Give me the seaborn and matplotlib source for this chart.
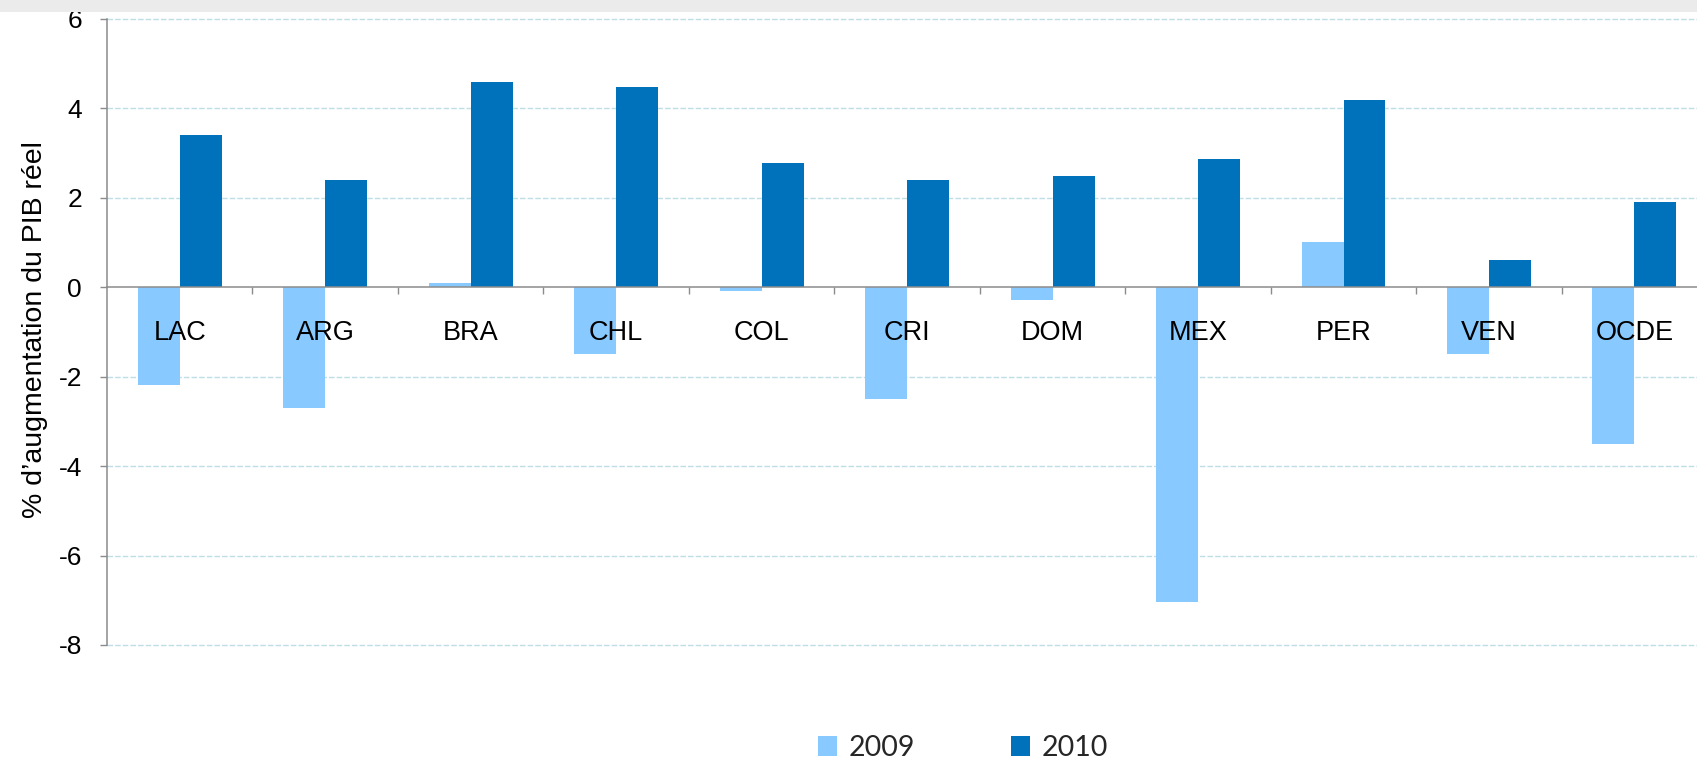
import matplotlib
matplotlib.use("Agg")
import matplotlib.pyplot as plt
from matplotlib.patches import Rectangle
from matplotlib.ticker import FixedLocator
import seaborn as sns
import pandas as pd

# ---- data ----
pays = ["LAC", "ARG", "BRA", "CHL", "COL", "CRI", "DOM", "MEX", "PER", "VEN", "OCDE"]
val_2009 = [-2.2, -2.7, 0.1, -1.5, -0.1, -2.5, -0.3, -7.05, 1.0, -1.5, -3.5]
val_2010 = [3.4, 2.4, 4.57, 4.47, 2.77, 2.4, 2.48, 2.87, 4.18, 0.6, 1.9]
annees = ["2009", "2010"]
y_ticks = [-8, -6, -4, -2, 0, 2, 4, 6]
ylabel = "% d\u2019augmentation du PIB réel"

df = pd.DataFrame({
    "pays": pays * 2,
    "annee": [annees[0]] * len(pays) + [annees[1]] * len(pays),
    "val": val_2009 + val_2010,
})

sns.set_theme(style="white")
plt.rcParams["font.family"] = ["Liberation Sans", "DejaVu Sans"]

W, H = 1697, 762
fig = plt.figure(figsize=(W / 100, H / 100), dpi=100)
left = 107 / W
top = 1 - 18.5 / H
bottom = 1 - 645 / H
ax = fig.add_axes([left, bottom, 1 - left, top - bottom])

# top grey band
fig.patches.append(Rectangle((0, 1 - 12 / H), 1, 12 / H, transform=fig.transFigure,
                             facecolor="#EBEBEB", edgecolor="none", zorder=0))

sns.barplot(data=df, x="pays", y="val", hue="annee", order=pays, hue_order=annees,
            palette=["#88CAFF", "#0072BC"], width=0.577, dodge=True,
            saturation=1, linewidth=0, ax=ax, legend=True)

ax.set_axisbelow(False)
ax.set_xlim(-0.5, 10.43)
ax.set_ylim(-8, 6)
ax.set_xlabel("")
ax.set_ylabel(ylabel, fontsize=20.5, color="black")
ax.yaxis.set_label_coords(-0.037, 0.503)

# gridlines
for yv in y_ticks:
    if yv != 0:
        ax.axhline(yv, color="#BDDFE5", lw=1.0, ls=(0, (4, 1.5)), zorder=0, clip_on=False)

ax.set_yticks(y_ticks)
ax.set_yticklabels([str(v) for v in y_ticks])
ax.tick_params(axis="y", which="major", left=True, length=5, width=1, color="#8C8C8C",
               labelsize=19, pad=13, labelcolor="black", direction="out")

# x axis on zero line
for s in ["top", "right"]:
    ax.spines[s].set_visible(False)
ax.spines["bottom"].set_position(("data", 0))
ax.spines["bottom"].set_color("#8C8C8C")
ax.spines["bottom"].set_linewidth(1.1)
ax.spines["left"].set_color("#8C8C8C")
ax.spines["left"].set_linewidth(1.1)

ax.tick_params(axis="x", which="major", bottom=True, length=0, labelsize=19.5,
               pad=24, labelcolor="black")
ax.xaxis.set_minor_locator(FixedLocator([i + 0.5 for i in range(len(pays))]))
ax.tick_params(axis="x", which="minor", bottom=True, length=5, width=1,
               color="#8C8C8C", direction="out")

# legend
handles, labels = ax.get_legend_handles_labels()
ax.get_legend().remove()
fig.legend(handles, labels, loc="center", bbox_to_anchor=(963 / W, 1 - 748 / H),
           ncol=2, frameon=False, handlelength=0.66, handleheight=0.66,
           handletextpad=0.4, columnspacing=3.4,
           prop={"family": ["Lato", "DejaVu Sans"], "size": 20.5})

fig.savefig("out.png", dpi=100)
